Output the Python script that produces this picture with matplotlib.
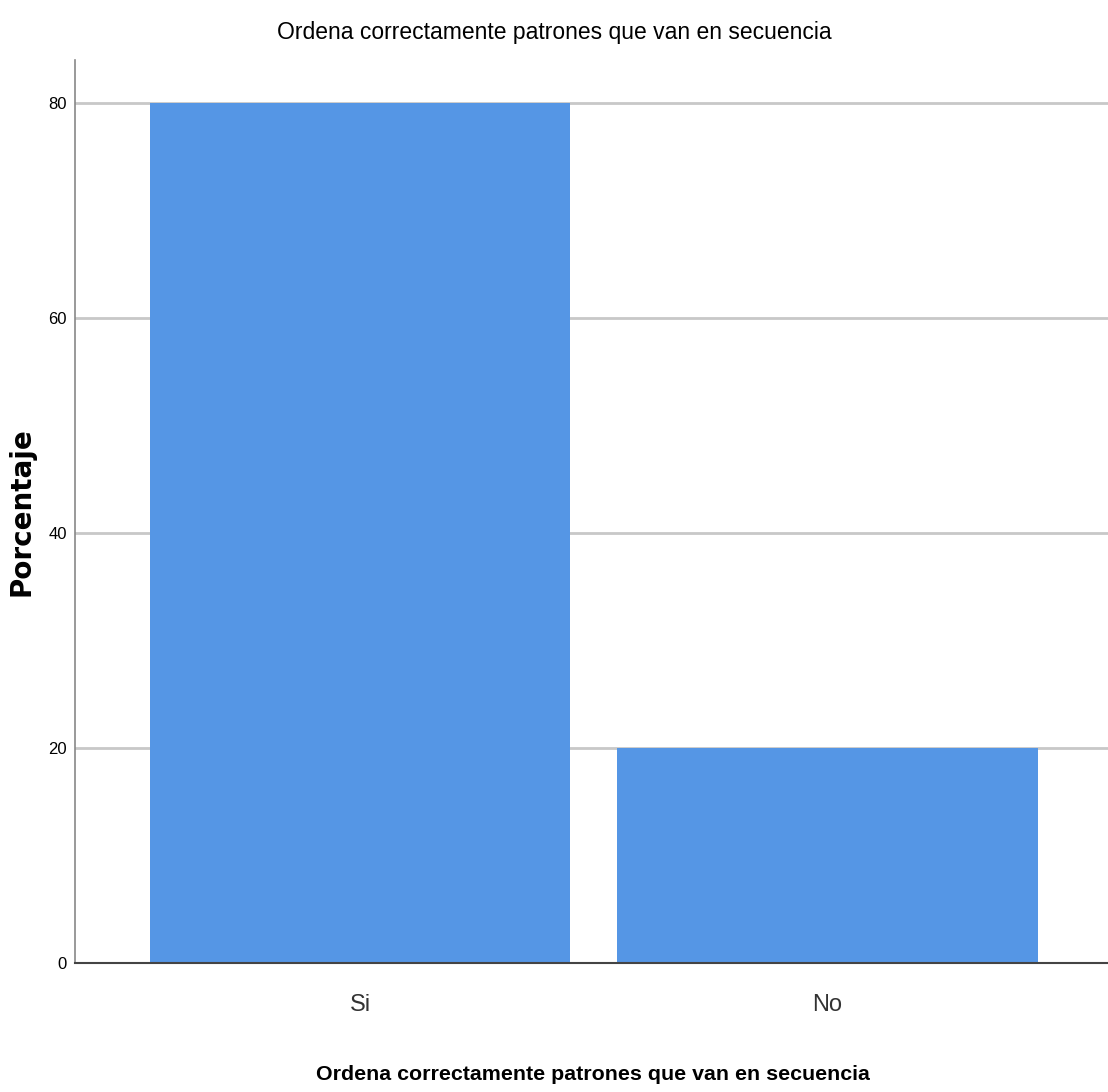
import matplotlib
matplotlib.use("Agg")
import matplotlib.pyplot as plt

# Data
categorias = ["Si", "No"]
porcentajes = [80, 20]
yticks = [0, 20, 40, 60, 80]
titulo = "Ordena correctamente patrones que van en secuencia"

sans = ["Liberation Sans", "DejaVu Sans"]

fig = plt.figure(figsize=(11.08, 10.92), dpi=100)
ax = fig.add_axes([0.0677, 0.1181, 0.9323, 0.8269])

x = range(len(categorias))
ax.bar(x, porcentajes, width=0.9, color="#5596e5", zorder=2)

ax.set_xlim(-0.61, 1.60)
ax.set_ylim(0, 84)
ax.set_yticks(yticks)
ax.set_yticklabels([str(v) for v in yticks], family=sans, fontsize=12)
ax.set_xticks(list(x))
ax.set_xticklabels(categorias, family=sans, fontsize=17, color="#333333")
ax.tick_params(axis="both", length=0)
ax.tick_params(axis="y", pad=6)
ax.tick_params(axis="x", pad=22)

ax.grid(axis="y", color="#c8c8c8", linewidth=2, zorder=0)
ax.set_axisbelow(True)

for s in ["top", "right"]:
    ax.spines[s].set_visible(False)
ax.spines["left"].set_color("#888888")
ax.spines["left"].set_linewidth(1.2)
ax.spines["bottom"].set_color("#444444")
ax.spines["bottom"].set_linewidth(1.5)
ax.spines["bottom"].set_zorder(3)

fig.text(0.5005, 1 - 32 / 1092, titulo, family=sans, fontsize=16.5,
         ha="center", va="center")
fig.text(0.535, 1 - 1075 / 1092, titulo, family=sans, fontsize=15.4,
         fontweight="bold", ha="center", va="center")
fig.text(22 / 1108, 1 - 512 / 1092, "Porcentaje", family=["DejaVu Sans"], fontsize=20,
         fontweight="bold", rotation=90, ha="center", va="center")

fig.savefig("out.png", dpi=100)
